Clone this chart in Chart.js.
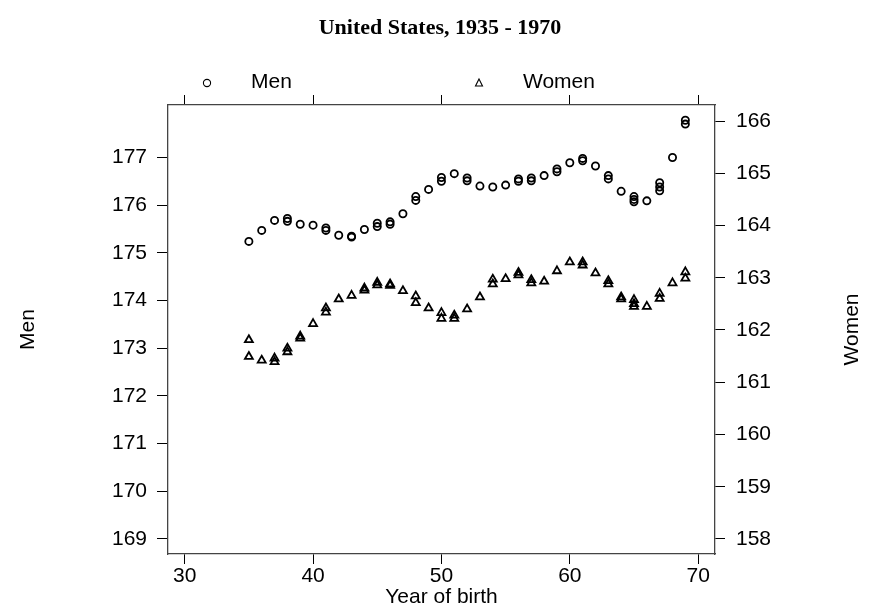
<!DOCTYPE html>
<html>
<head>
<meta charset="utf-8">
<title>United States, 1935 - 1970</title>
<script src="https://cdn.jsdelivr.net/npm/chart.js@4.4.0/dist/chart.umd.min.js"></script>
<style>
  html, body { margin: 0; padding: 0; background: #fff; }
  #wrap { width: 881px; height: 613px; }
</style>
</head>
<body>
<div id="wrap"><canvas id="heights"></canvas></div>
<script>
// Mean height by year of birth (several surveys, so some years repeat)
var menYear = [35, 36, 37, 38, 38, 39, 40, 41, 41, 42, 43, 43, 44, 45, 45, 46, 46, 47, 48, 48, 49,
               50, 50, 51, 52, 52, 53, 54, 55, 56, 56, 57, 57, 58, 59, 59, 60, 61, 61, 62, 63, 63,
               64, 65, 65, 65, 66, 67, 67, 67, 68, 69, 69];
var menCm = [175.24, 175.47, 175.68, 175.72, 175.66, 175.60, 175.58, 175.52, 175.47, 175.37, 175.35, 175.33,
             175.49, 175.62, 175.55, 175.65, 175.60, 175.82, 176.18, 176.10, 176.33,
             176.58, 176.50, 176.66, 176.57, 176.51, 176.40, 176.38, 176.42, 176.55, 176.50, 176.57, 176.51,
             176.62, 176.76, 176.70, 176.89, 176.98, 176.93, 176.82, 176.62, 176.55,
             176.29, 176.18, 176.12, 176.07, 176.09, 176.47, 176.38, 176.30, 177.00, 177.78, 177.70];

var womenYear = [35, 35, 36, 37, 37, 38, 38, 39, 39, 40, 41, 41, 42, 43, 44, 44, 45, 45, 46, 46, 47, 48, 48, 49,
                 50, 50, 51, 51, 52, 53, 54, 54, 55, 56, 56, 57, 57, 58, 59, 60, 61, 61, 62, 63, 63,
                 64, 64, 65, 65, 65, 66, 67, 67, 68, 69, 69];
var womenCm = [161.81, 161.49, 161.42, 161.46, 161.39, 161.65, 161.58, 161.88, 161.84, 162.12, 162.42, 162.34,
               162.59, 162.66, 162.80, 162.76, 162.91, 162.86, 162.88, 162.85, 162.75, 162.65, 162.52, 162.42,
               162.33, 162.22, 162.28, 162.22, 162.40, 162.63, 162.97, 162.88, 162.98, 163.10, 163.05,
               162.96, 162.90, 162.93, 163.13, 163.30, 163.30, 163.24, 163.09, 162.94, 162.88,
               162.63, 162.59, 162.58, 162.50, 162.45, 162.45, 162.70, 162.60, 162.90, 163.11, 162.99];

// Tick labels
var yearTicks = [30, 40, 50, 60, 70];
var menTicks = [169, 170, 171, 172, 173, 174, 175, 176, 177];
var womenTicks = [158, 159, 160, 161, 162, 163, 164, 165, 166];

var sans = "'Liberation Sans', Arial, Helvetica, sans-serif";

function toPoints(xs, ys) {
    var out = [];
    for (var i = 0; i < xs.length; i++) out.push({ x: xs[i], y: ys[i] });
    return out;
}

function setTicks(list) {
    return function (scale) {
        scale.ticks = list.map(function (v) { return { value: v }; });
    };
}

function fixSize(prop, size) {
    return function (scale) { scale[prop] = size; };
}

var boxLine = { display: true, color: '#444', width: 1.3 };
var tickMarks = { drawOnChartArea: false, drawTicks: true, tickLength: 10, color: '#000', lineWidth: 1 };

// titles, legend and side labels
var textPlugin = {
    id: 'texts',
    afterDraw: function (chart) {
        var ctx = chart.ctx, area = chart.chartArea;
        var midY = (area.top + area.bottom) / 2;
        ctx.save();
        ctx.fillStyle = '#000';
        ctx.textBaseline = 'middle';

        ctx.font = "bold 22px 'Liberation Serif', 'Times New Roman', serif";
        ctx.textAlign = 'center';
        ctx.fillText('United States, 1935 - 1970', 440, 28);

        ctx.font = '21px ' + sans;
        ctx.fillText('Year of birth', (area.left + area.right) / 2, 597);

        ctx.save();
        ctx.translate(28, midY);
        ctx.rotate(-Math.PI / 2);
        ctx.fillText('Men', 0, 0);
        ctx.restore();

        ctx.save();
        ctx.translate(852, midY);
        ctx.rotate(-Math.PI / 2);
        ctx.fillText('Women', 0, 0);
        ctx.restore();

        // legend
        ctx.textAlign = 'left';
        ctx.fillText('Men', 251, 82);
        ctx.fillText('Women', 523, 82);
        ctx.strokeStyle = '#000';
        ctx.lineWidth = 1.1;
        ctx.beginPath();
        ctx.arc(207, 83, 3.6, 0, Math.PI * 2);
        ctx.stroke();
        ctx.beginPath();
        ctx.moveTo(479, 79);
        ctx.lineTo(482.5, 86);
        ctx.lineTo(475.5, 86);
        ctx.closePath();
        ctx.stroke();
        ctx.restore();
    }
};

var ctx = document.getElementById('heights');

var chartData = {
    datasets: [{
        label: 'Men',
        data: toPoints(menYear, menCm),
        yAxisID: 'y',
        pointStyle: 'circle',
        pointRadius: 3.6,
        pointBorderWidth: 1.8,
        borderColor: '#000',
        backgroundColor: 'rgba(0,0,0,0)'
    }, {
        label: 'Women',
        data: toPoints(womenYear, womenCm),
        yAxisID: 'y2',
        pointStyle: 'triangle',
        pointRadius: 4.6,
        pointBorderWidth: 1.8,
        borderColor: '#000',
        backgroundColor: 'rgba(0,0,0,0)'
    }]
};

var chartOptions = {
    responsive: true,
    maintainAspectRatio: false,
    animation: false,
    layout: { padding: 0 },
    plugins: {
        legend: { display: false },
        title: { display: false },
        tooltip: { enabled: false }
    },
    scales: {
        x: {
            type: 'linear', position: 'bottom', min: 28.7, max: 71.31,
            afterBuildTicks: setTicks(yearTicks),
            afterFit: fixSize('height', 59),
            border: boxLine, grid: tickMarks,
            ticks: { color: '#000', padding: 0, maxRotation: 0, font: { family: sans, size: 21 } }
        },
        x2: {
            type: 'linear', position: 'top', min: 28.7, max: 71.31,
            afterBuildTicks: setTicks(yearTicks),
            afterFit: fixSize('height', 105),
            border: boxLine, grid: tickMarks,
            ticks: { display: false }
        },
        y: {
            type: 'linear', position: 'left', min: 168.685, max: 178.10,
            afterBuildTicks: setTicks(menTicks),
            afterFit: fixSize('width', 168),
            border: boxLine, grid: Object.assign({}, tickMarks, { tickLength: 11 }),
            ticks: { color: '#000', padding: 10, font: { family: sans, size: 21 } }
        },
        y2: {
            type: 'linear', position: 'right', min: 157.712, max: 166.307,
            afterBuildTicks: setTicks(womenTicks),
            afterFit: fixSize('width', 166),
            border: boxLine, grid: tickMarks,
            ticks: { color: '#000', padding: 11, font: { family: sans, size: 21 } }
        }
    }
};

var scatter = new Chart(ctx, {
    type: 'scatter',
    data: chartData,
    options: chartOptions,
    plugins: [textPlugin]
});
</script>
</body>
</html>
